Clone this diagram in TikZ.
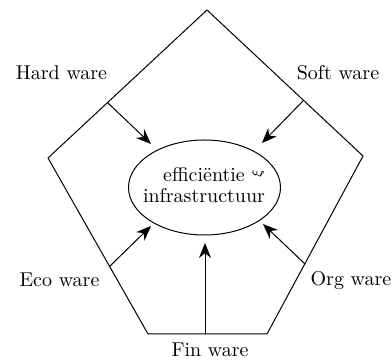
\documentclass[tikz,border=0pt]{standalone}
\usetikzlibrary{arrows.meta,shapes.geometric}

\tikzset{
	ware/.style={anchor=base, font=\normalsize},
	feed/.style={line width=0.5, -{Stealth[length=7.5pt,width=6pt]}},
}

\begin{document}
\begin{tikzpicture}[line cap=round,line join=round,x=0.5pt,y=-0.5pt]
		\useasboundingbox (0,0) rectangle (392,362);
		
		% pentagon corners
		\coordinate (top) at (207,10);
		\coordinate (rgt) at (363,156);
		\coordinate (bro) at (267,334);
		\coordinate (blo) at (148,334);
		\coordinate (lft) at (48,158);
		\draw[line width=0.5] (top) -- (rgt) -- (bro) -- (blo) -- (lft) -- cycle;
		
		% centre
		\node[draw, ellipse, line width=0.5, minimum width=76pt, minimum height=47.5pt, inner sep=0pt] (eff) at (204.5,187.5) {};
		\node[ware] (effa) at (204,182) {efficiëntie};
		\node[ware] (effb) at (204,203) {infrastructuur};
		\node[font=\scriptsize, rotate=90, inner sep=0pt] (mark) at (258,174) {$\xi$};
		
		% starts on the edges and tips near the ellipse
		\coordinate (hw) at (108,103);  \coordinate (hw-in) at (151,144);
		\coordinate (sw) at (303,101);  \coordinate (sw-in) at (262,143);
		\coordinate (ew) at (109,267);  \coordinate (ew-in) at (151,226);
		\coordinate (ow) at (305,264);  \coordinate (ow-in) at (263,224);
		\coordinate (fw) at (205,334);  \coordinate (fw-in) at (205,243);
		
		\draw[feed] (hw) -- (hw-in);
		\draw[feed] (sw) -- (sw-in);
		\draw[feed] (ew) -- (ew-in);
		\draw[feed] (ow) -- (ow-in);
		\draw[feed] (fw) -- (fw-in);
		
		\node[ware] (hard) at (61.5,80) {Hard ware};
		\node[ware] (soft) at (338,80) {Soft ware};
		\node[ware] (eco) at (59.5,287) {Eco ware};
		\node[ware] (org) at (351,286) {Org ware};
		\node[ware] (fin) at (210,357) {Fin ware};
		
	\end{tikzpicture}
\end{document}
